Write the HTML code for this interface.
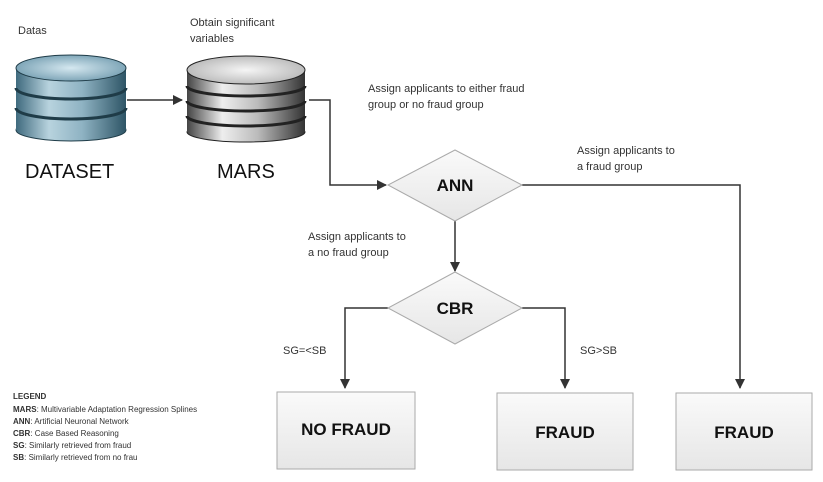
<!DOCTYPE html>
<html><head><style>
body{margin:0;background:#fff;width:823px;height:482px;overflow:hidden}
svg{display:block;font-family:"Liberation Sans",sans-serif}
</style></head><body>
<svg width="823" height="482" viewBox="0 0 823 482" xmlns="http://www.w3.org/2000/svg">
<defs>
<marker id="a" markerWidth="10" markerHeight="10" refX="9" refY="5" orient="auto" markerUnits="userSpaceOnUse"><path d="M0,0 L10,5 L0,10 z" fill="#333"/></marker>
<linearGradient id="blue" x1="0" x2="1"><stop offset="0" stop-color="#3f6a7e"/><stop offset=".3" stop-color="#b8d3de"/><stop offset=".6" stop-color="#8fb3c3"/><stop offset="1" stop-color="#2e5566"/></linearGradient>
<linearGradient id="gray" x1="0" x2="1"><stop offset="0" stop-color="#444"/><stop offset=".3" stop-color="#eee"/><stop offset=".6" stop-color="#bbb"/><stop offset="1" stop-color="#333"/></linearGradient>
<linearGradient id="dg" x1="0" y1="0" x2="0" y2="1"><stop offset="0" stop-color="#fafafa"/><stop offset="1" stop-color="#e6e6e6"/></linearGradient>
<radialGradient id="top1"><stop offset="0" stop-color="#d5e8f0"/><stop offset="1" stop-color="#7fa6b8"/></radialGradient>
<radialGradient id="top2"><stop offset="0" stop-color="#f5f5f5"/><stop offset="1" stop-color="#bdbdbd"/></radialGradient>
</defs>
<g font-size="11" fill="#333">
<text x="18" y="34">Datas</text>
<text x="190" y="26">Obtain  significant</text>
<text x="190" y="42">variables</text>
<text x="368" y="92">Assign applicants to either fraud</text>
<text x="368" y="108">group or no fraud group</text>
<text x="577" y="154">Assign applicants to</text>
<text x="577" y="170">a fraud group</text>
<text x="308" y="240">Assign applicants to</text>
<text x="308" y="256">a no fraud group</text>
<text x="283" y="354">SG=&lt;SB</text>
<text x="580" y="354">SG&gt;SB</text>
</g>
<!-- dataset cylinder -->
<g stroke="#1f3c48" stroke-width="1">
<rect x="16" y="68" width="110" height="62" fill="url(#blue)" stroke="none"/>
<ellipse cx="71" cy="130" rx="55" ry="11" fill="url(#blue)"/>
<rect x="16" y="68" width="110" height="62" fill="url(#blue)" stroke="none"/>
<path d="M16,88 a55,11 0 0 0 110,0 M16,108 a55,11 0 0 0 110,0" fill="none" stroke="#1f3c48" stroke-width="3"/>
<ellipse cx="71" cy="68" rx="55" ry="13" fill="url(#top1)"/>
</g>
<!-- mars cylinder -->
<g stroke="#222">
<rect x="187" y="70" width="118" height="62" fill="url(#gray)" stroke="none"/>
<ellipse cx="246" cy="132" rx="59" ry="10" fill="url(#gray)"/>
<rect x="187" y="70" width="118" height="62" fill="url(#gray)" stroke="none"/>
<path d="M187,86 a59,10 0 0 0 118,0 M187,101 a59,10 0 0 0 118,0 M187,116 a59,10 0 0 0 118,0" fill="none" stroke="#222" stroke-width="3"/>
<ellipse cx="246" cy="70" rx="59" ry="14" fill="url(#top2)"/>
</g>
<text x="25" y="178" font-size="20" fill="#111">DATASET</text>
<text x="217" y="178" font-size="20" fill="#111">MARS</text>
<g stroke="#333" stroke-width="1.5" fill="none">
<path d="M127,100 H182" marker-end="url(#a)"/>
<path d="M309,100 H330 V185 H386" marker-end="url(#a)"/>
<path d="M522,185 H740 V388" marker-end="url(#a)"/>
<path d="M455,221 V271" marker-end="url(#a)"/>
<path d="M388,308 H345 V388" marker-end="url(#a)"/>
<path d="M522,308 H565 V388" marker-end="url(#a)"/>
</g>
<g stroke="#aaa" fill="url(#dg)">
<polygon points="455,150 522,185 455,221 388,185"/>
<polygon points="455,272 522,308 455,344 388,308"/>
<rect x="277" y="392" width="138" height="77"/>
<rect x="497" y="393" width="136" height="77"/>
<rect x="676" y="393" width="136" height="77"/>
</g>
<g font-weight="bold" fill="#111" text-anchor="middle" font-size="17">
<text x="455" y="191">ANN</text>
<text x="455" y="314">CBR</text>
<text x="346" y="435">NO FRAUD</text>
<text x="565" y="438">FRAUD</text>
<text x="744" y="438">FRAUD</text>
</g>
<g font-size="8" fill="#333">
<text x="13" y="399" font-weight="bold">LEGEND</text>
<text x="13" y="412"><tspan font-weight="bold">MARS</tspan>: Multivariable Adaptation Regression Splines</text>
<text x="13" y="424"><tspan font-weight="bold">ANN</tspan>: Artificial Neuronal Network</text>
<text x="13" y="436"><tspan font-weight="bold">CBR</tspan>: Case Based Reasoning</text>
<text x="13" y="448"><tspan font-weight="bold">SG</tspan>: Similarly retrieved from fraud</text>
<text x="13" y="460"><tspan font-weight="bold">SB</tspan>: Similarly retrieved from no frau</text>
</g>
</svg>
</body></html>
